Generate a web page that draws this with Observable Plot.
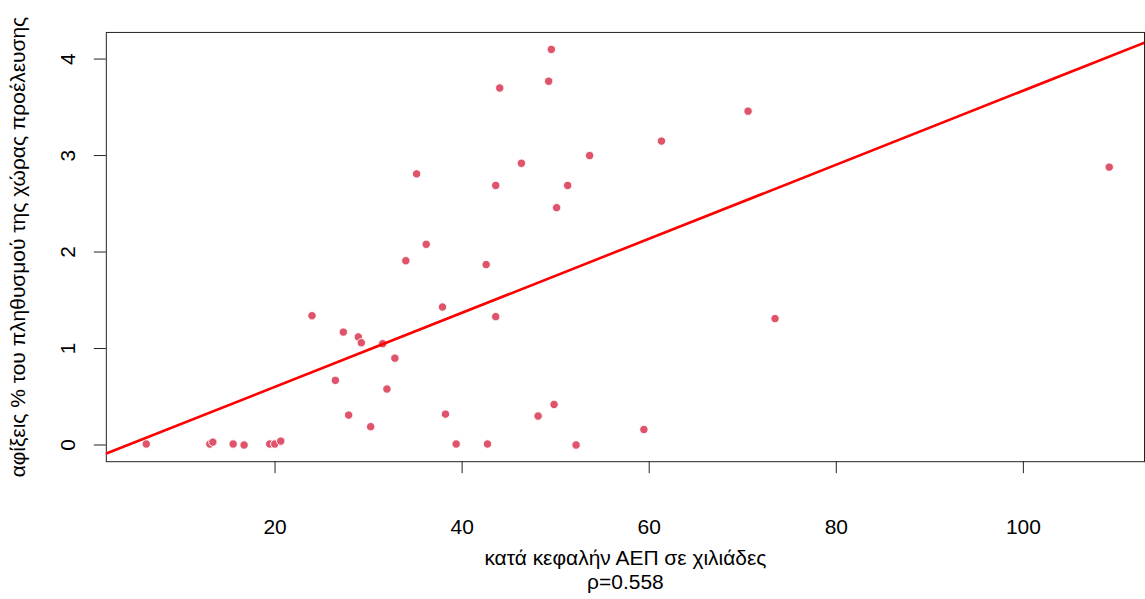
<!DOCTYPE html>
<html>
<head>
<meta charset="utf-8">
<script src="https://cdn.jsdelivr.net/npm/d3@7"></script>
<script src="https://cdn.jsdelivr.net/npm/@observablehq/plot@0.6"></script>
<style>
  html, body { margin: 0; padding: 0; background: #fff; overflow: hidden; }
  #chart svg { display: block; }
</style>
</head>
<body>
<div id="chart"></div>
<script>
// Per-capita GDP (thousands) for each country of origin
const gdp = [
  6.23, 13.03, 13.35, 15.52, 16.69, 19.43, 19.97, 20.61, 23.95, 26.45,
  27.30, 27.87, 28.90, 29.22, 30.22, 31.50, 31.96, 32.81, 33.98, 35.13,
  36.16, 37.90, 38.22, 39.36, 42.57, 42.71, 43.59, 43.59, 44.02, 46.34,
  48.12, 49.25, 49.54, 49.83, 50.10, 51.28, 52.18, 53.63, 59.43, 61.31,
  70.57, 73.45, 109.18
];
// Arrivals as % of the population of the country of origin
const arrivals = [
  0.01, 0.01, 0.03, 0.01, 0.00, 0.01, 0.01, 0.04, 1.34, 0.67,
  1.17, 0.31, 1.12, 1.06, 0.19, 1.05, 0.58, 0.90, 1.91, 2.81,
  2.08, 1.43, 0.32, 0.01, 1.87, 0.01, 2.69, 1.33, 3.70, 2.92,
  0.30, 3.77, 4.10, 0.42, 2.46, 2.69, 0.00, 3.00, 0.16, 3.15,
  3.46, 1.31, 2.88
];
const xTicks = [20, 40, 60, 80, 100];
const yTicks = [0, 1, 2, 3, 4];
const xLabel = "κατά κεφαλήν ΑΕΠ σε χιλιάδες";
const rhoLabel = "ρ=0.558";
const yLabel = "αφίξεις % του πληθυσμού της χώρας προέλευσης";

const points = gdp.map((g, i) => ({gdp: g, arrivals: arrivals[i]}));

// Least-squares fit of arrivals on GDP
const mx = d3.mean(gdp), my = d3.mean(arrivals);
const slope = d3.sum(points, d => (d.gdp - mx) * (d.arrivals - my)) /
              d3.sum(points, d => (d.gdp - mx) ** 2);
const intercept = my - slope * mx;

const xDomain = [1.96, 112.95];
const yDomain = [-0.173, 4.276];
const fitLine = xDomain.map(x => ({gdp: x, arrivals: intercept + slope * x}));

const font = "'Liberation Sans', Arial, sans-serif";
const fs = 21;

const chart = Plot.plot({
  width: 1147,
  height: 599,
  marginLeft: 106,
  marginRight: 1,
  marginTop: 32,
  marginBottom: 137,
  style: {fontFamily: font, fontSize: fs + "px", background: "#fff", color: "#000"},
  x: {domain: xDomain},
  y: {domain: yDomain},
  marks: [
    Plot.frame({stroke: "#222", strokeWidth: 1}),
    Plot.axisX({ticks: xTicks, tickSize: 12, tickPadding: 46, label: null, stroke: "#222", fontSize: fs}),
    Plot.axisY({ticks: yTicks, tickSize: 12, tickFormat: () => "", label: null, stroke: "#222"}),
    Plot.text(yTicks, {y: d => d, text: d => String(d), frameAnchor: "left", textAnchor: "middle", lineAnchor: "middle", dx: -38.5, rotate: -90, fontSize: fs}),
    Plot.text([yLabel], {frameAnchor: "left", textAnchor: "middle", lineAnchor: "middle", dx: -88.5, rotate: -90, fontSize: fs}),
    Plot.text([xLabel + "\n" + rhoLabel], {frameAnchor: "bottom", textAnchor: "middle", dy: 86.5, lineAnchor: "top", lineHeight: 1.14, fontSize: fs}),
    Plot.dot(points, {x: "gdp", y: "arrivals", r: 4.2, fill: "#DF536B", stroke: "#fff", strokeWidth: 0.9}),
    Plot.line(fitLine, {x: "gdp", y: "arrivals", stroke: "#FF0000", strokeWidth: 2.6, clip: true})
  ]
});

document.getElementById("chart").appendChild(chart);
</script>
</body>
</html>
